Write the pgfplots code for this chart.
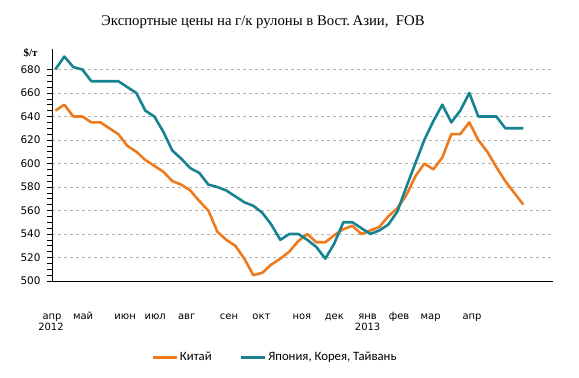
\documentclass[border=0pt]{standalone}
\usepackage{fontspec}
\setmainfont{DejaVu Sans}
\newfontfamily\titlefont{Liberation Serif}
\newfontfamily\legfont{Carlito}
\usepackage{pgfplots}
\pgfplotsset{compat=1.18}
\definecolor{cn}{RGB}{238,122,30}
\definecolor{jp}{RGB}{22,130,146}
\begin{document}
\begin{tikzpicture}
\path[use as bounding box] (-52bp,-97bp) rectangle (527bp,281bp);
\begin{axis}[
  scale only axis,
  width=501bp, height=231.5bp,
  at={(0,0)}, anchor=south west,
  xmin=-0.37, xmax=55.3,
  ymin=500, ymax=697,
  axis lines*=left,
  axis line style={black, line width=0.8pt, -},
  ytick={500,520,...,680},
  minor y tick num=3,
  ytick pos=left,
  tick align=outside,
  major tick length=5bp,
  minor tick length=5bp,
  every tick/.style={black, line width=0.6pt},
  ymajorgrids,
  major grid style={gray!60, dashed, line width=0.6pt},
  yticklabel style={font=\fontsize{10.5}{12}\selectfont, xshift=-3bp},
  /pgf/number format/assume math mode=true,
  xtick={-0.37,3.08,7.76,11.1,14.6,19.3,22.9,27.4,31.0,34.7,38.2,41.7,46.3},
  xticklabels={апр,май,июн,июл,авг,сен,окт,ноя,дек,янв,фев,мар,апр},
  x tick style={draw=none},
  xticklabel style={font=\fontsize{10}{15}\selectfont, anchor=base, yshift=-33bp},
  clip=false,
  legend style={at={(0.445,-0.33)}, anchor=center, draw=none, fill=none,
    legend columns=2, font=\legfont\fontsize{12.8}{14}\selectfont,
    /tikz/every even column/.append style={column sep=26bp}},
  legend image code/.code={\draw[#1] (0bp,0bp) -- (24bp,0bp);},
]
\addplot[cn, line width=2.6pt, line join=round] coordinates {
(0,645)(1,650)(2,640)(3,640)(4,635)(5,635)(6,630)(7,625)(8,615)(9,610)
(10,603)(11,598)(12,593)(13,585)(14,582)(15,577)(16,568)(17,560)(18,542)(19,535)
(20,530)(21,519)(22,505)(23,507)(24,514)(25,519)(26,525)(27,534)(28,540)(29,533)
(30,533)(31,539)(32,544)(33,547)(34,540)(35,543)(36,546)(37,555)(38,562)(39,573)
(40,589)(41,600)(42,595)(43,605)(44,625)(45,625)(46,635)(47,620)(48,610)(49,597)
(50,585)(51,575)(52,565)
};
\addlegendentry{Китай}
\addplot[jp, line width=2.6pt, line join=round] coordinates {
(0,680)(1,691)(2,682)(3,680)(4,670)(5,670)(6,670)(7,670)(8,665)(9,660)
(10,645)(11,640)(12,627)(13,611)(14,604)(15,596)(16,592)(17,582)(18,580)(19,577)
(20,572)(21,567)(22,564)(23,558)(24,548)(25,535)(26,540)(27,540)(28,535)(29,529)
(30,519)(31,532)(32,550)(33,550)(34,545)(35,540)(36,543)(37,548)(38,559)(39,580)
(40,600)(41,620)(42,636)(43,650)(44,635)(45,645)(46,660)(47,640)(48,640)(49,640)
(50,630)(51,630)(52,630)
};
\addlegendentry{Япония, Корея, Тайвань}
\node[anchor=base, font=\fontsize{10}{15}\selectfont] at ([xshift=-1bp,yshift=-49bp]axis cs:-0.37,500) {2012};
\node[anchor=base, font=\fontsize{10}{15}\selectfont] at ([yshift=-49bp]axis cs:34.7,500) {2013};
\node[anchor=east, font=\titlefont\bfseries\fontsize{11}{12}\selectfont] at ([xshift=-11bp,yshift=-3bp]rel axis cs:0,1) {\$/т};
\node[font=\titlefont\fontsize{14.8}{16}\selectfont] at ([xshift=1bp,yshift=27bp]rel axis cs:0.419,1) {Экспортные цены на г/к рулоны в Вост.\,Азии,\ \ FOB};
\end{axis}
\end{tikzpicture}
\end{document}
